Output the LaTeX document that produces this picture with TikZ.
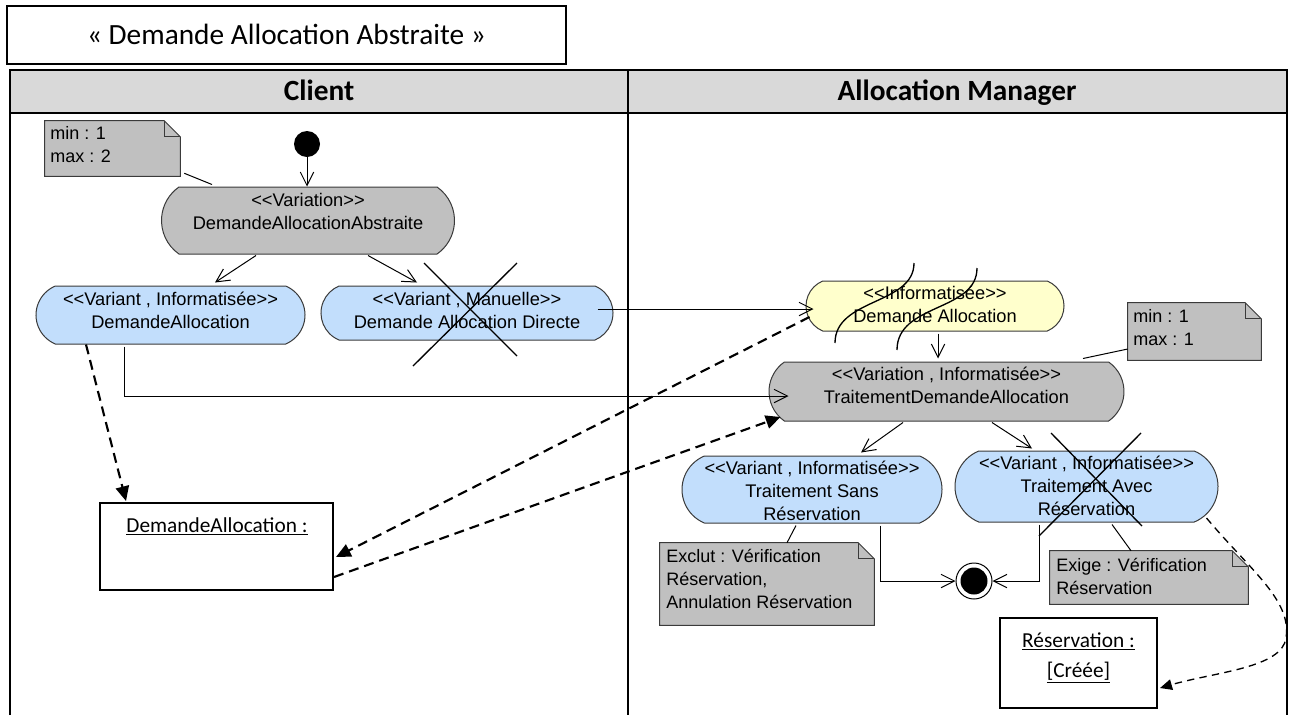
\documentclass[tikz,border=0pt]{standalone}
\usepackage{fontspec}
\setmainfont{Liberation Sans}[Ligatures=TeXOff]
\newfontfamily\calib{Carlito}
\usetikzlibrary{shapes.misc,arrows.meta,calc}
\definecolor{lanegray}{HTML}{D9D9D9}
\definecolor{nodegray}{HTML}{C0C0C0}
\definecolor{nodeblue}{HTML}{C2DEFC}
\definecolor{nodeyellow}{HTML}{FFFFCC}
\definecolor{edgegray}{HTML}{3A3A3A}
\newcommand\noteoutline[2]{%
  \draw[noteline] (#1.north west) -- ($(#1.north east)+(-#2,0)$) -- ($(#1.north east)+(0,#2)$) -- (#1.south east) -- (#1.south west) -- cycle;
  \draw[line width=0.75pt, draw=edgegray] ($(#1.north east)+(-#2,0)$) -- ($(#1.north east)+(-#2,#2)$) -- ($(#1.north east)+(0,#2)$);}
\begin{document}
\begin{tikzpicture}[x=0.75pt,y=-0.75pt,
  act/.style={rounded rectangle, rounded rectangle arc length=135, draw=edgegray, line width=0.75pt, inner sep=0pt},
  grayact/.style={act, fill=nodegray, rounded rectangle arc length=110},
  blueact/.style={act, fill=nodeblue},
  yellowact/.style={act, fill=nodeyellow},
  ntext/.style={align=center, inner sep=0pt, font=\fontsize{13.7}{17.25}\selectfont},
  ntextl/.style={align=left, inner sep=0pt, font=\fontsize{13.5}{17.25}\selectfont},
  notebg/.style={rectangle, draw=none, fill=none, inner sep=0pt},
  noteline/.style={draw=edgegray, fill=nodegray, line width=0.75pt},
  flow/.style={-{Straight Barb[length=10pt,width=10pt]}, line width=0.75pt},
  plain/.style={line width=0.75pt},
  dep/.style={-{Triangle[length=11pt,width=10pt]}, line width=1.6pt, dash pattern=on 7.5pt off 4.5pt},
  depthin/.style={-{Triangle[length=9pt,width=8pt]}, line width=1pt, dash pattern=on 5.5pt off 4pt},
  objbox/.style={rectangle, draw=black, line width=1.5pt, fill=white, inner sep=0pt},
  objtext/.style={align=center, inner sep=0pt, font=\calib\fontsize{16}{22.5}\selectfont},
  lanehead/.style={inner sep=0pt, anchor=base, font=\calib\bfseries\fontsize{22}{26}\selectfont},
  cross/.style={line width=1pt}
]
\useasboundingbox (0,0) rectangle (1292,715);
% title
\node[rectangle, draw=black, line width=1.5pt, minimum width=559*0.75pt, minimum height=58*0.75pt, inner sep=0pt,
  font=\calib\fontsize{22}{26}\selectfont] (title) at (286.5,34.5) {« Demande Allocation Abstraite »};
% swimlanes
\fill[lanegray] (10,70) rectangle (1287,113);
\draw[line width=2.2pt] (10,715) -- (10,70) -- (1287,70) -- (1287,715);
\draw[line width=2.2pt] (10,113) -- (1287,113);
\draw[line width=1.5pt] (628,70) -- (628,715);
\node[lanehead] (lclient) at (319,100) {Client};
\node[lanehead] (lmanager) at (957,100) {Allocation Manager};

% actions
\node[circle, fill=black, minimum size=26*0.75pt, inner sep=0pt] (init) at (307,144) {};
\node[grayact, minimum width=293*0.75pt, minimum height=67*0.75pt] (v0) at (308,220.5) {};
\node[ntext] (v0t) at ($(v0)+(0,-9)$) {<<Variation>>\\DemandeAllocationAbstraite};
\node[blueact, minimum width=269*0.75pt, minimum height=58*0.75pt] (da) at (170.5,315) {};
\node[ntext] (dat) at ($(da)+(0,-5)$) {<<Variant , Informatisée>>\\DemandeAllocation};
\node[blueact, minimum width=292*0.75pt, minimum height=54*0.75pt] (dad) at (467,313) {};
\node[ntext] (dadt) at ($(dad)+(0,-3)$) {<<Variant , Manuelle>>\\Demande Allocation Directe};
\node[yellowact, minimum width=258*0.75pt, minimum height=50*0.75pt] (yel) at (935,306) {};
\node[ntext] (yelt) at ($(yel)+(0,-1.5)$) {<<Informatisée>>\\Demande Allocation};
\node[grayact, minimum width=355*0.75pt, minimum height=59*0.75pt] (tda) at (946.5,391.5) {};
\node[ntext] (tdat) at ($(tda)+(0,-6)$) {<<Variation , Informatisée>>\\TraitementDemandeAllocation};
\node[blueact, minimum width=260*0.75pt, minimum height=67*0.75pt] (tsr) at (812,489.5) {};
\node[ntext] (tsrt) at ($(tsr)+(0,1)$) {<<Variant , Informatisée>>\\Traitement Sans\\Réservation};
\node[blueact, minimum width=263*0.75pt, minimum height=71*0.75pt] (tar) at (1086.5,486.5) {};
\node[ntext] (tart) at ($(tar)+(0,-1)$) {<<Variant , Informatisée>>\\Traitement Avec\\Réservation};
\node[circle, draw=black, fill=white, line width=0.75pt, minimum size=36*0.75pt, inner sep=0pt] (fin) at (974,581) {};
\node[circle, fill=black, minimum size=27*0.75pt, inner sep=0pt] (fin2) at (fin) {};

% object boxes
\node[objbox, minimum width=233*0.75pt, minimum height=87*0.75pt] (ob1) at (216.5,546.5) {};
\node[objtext] (ob1t) at ($(ob1.north)+(0.5,24)$) {\underline{DemandeAllocation :}};
\node[objbox, minimum width=157*0.75pt, minimum height=90*0.75pt] (ob2) at (1078.5,663) {};
\node[objtext] (ob2t) at ($(ob2)+(0,-5)$) {\underline{Réservation :}\\\underline{[Créée]}};

% notes
\node[notebg, minimum width=135*0.75pt, minimum height=55*0.75pt] (n1) at (112.5,148.5) {};
\noteoutline{n1}{16}
\node[ntextl, anchor=west] (n1t) at (50,144.5) {min : 1\\max : 2};
\node[notebg, minimum width=133*0.75pt, minimum height=57*0.75pt] (n2) at (1194.5,331.5) {};
\noteoutline{n2}{16}
\node[ntextl, anchor=west] (n2t) at (1133,328) {min : 1\\max : 1};
\node[notebg, minimum width=214*0.75pt, minimum height=82*0.75pt] (n3) at (767,584) {};
\noteoutline{n3}{16}
\node[ntextl, anchor=west] (n3t) at (666,579) {Exclut : Vérification\\Réservation,\\Annulation Réservation};
\node[notebg, minimum width=198*0.75pt, minimum height=53*0.75pt] (n4) at (1149,577.5) {};
\noteoutline{n4}{16}
\node[ntextl, anchor=west] (n4t) at (1056,576) {Exige : Vérification\\Réservation};

% note anchors
\draw[plain] ($(n1.south east)+(4,-3)$) -- ($(v0.north)+(-96,-2)$);
\draw[plain] ($(n2.west)+(0,17.5)$) -- ($(tda.north)+(136.5,-3)$);
\draw[plain] ($(n3.north)+(20,0)$) -- ($(tsr.south)+(-16,2)$);
\draw[plain] ($(n4.north)+(-18,0)$) -- ($(tar.south)+(25.5,2)$);

% control flows
\draw[flow] (init.south) -- (init.south |- v0.north);
\draw[flow] ($(v0.south)+(-52,1)$) -- ($(da.north)+(44.5,-3)$);
\draw[flow] ($(v0.south)+(60,1)$) -- ($(dad.north)+(-50,-3)$);
\draw[flow] ($(dad.east)+(-16,-4)$) -- ($(yel.west)+(8,3)$);
\draw[flow] ($(da.south)+(-46.5,2)$) |- ($(tda.west)+(20,4.5)$);
\draw[flow] ($(yel.south)+(3,2)$) -- ($(tda.north)+(-8.5,-3)$);
\draw[flow] ($(tda.south)+(-43.5,1)$) -- ($(tsr.north)+(49,-3)$);
\draw[flow] ($(tda.south)+(45.5,1)$) -- ($(tar.north)+(-54.5,-2)$);
\draw[flow] ($(tsr.south)+(68,2)$) |- (fin.west);
\draw[flow] ($(tar.south)+(-47.5,2)$) |- (fin.east);

% object flows
\draw[dep] ($(da.south)+(-84.5,0)$) -- ($(ob1.north west)+(27,-1)$);
\draw[dep] ($(yel.west)+(4,11)$) -- ($(ob1.east)+(2,10.5)$);
\draw[dep] ($(ob1.east)+(0,30.5)$) -- ($(tda.west)+(12,25.5)$);
\draw[depthin] ($(tar.east)+(-12,31.5)$) .. controls (1250,570) and (1292,600) .. (1286,638)
  .. controls (1282,668) and (1215,672) .. ($(ob2.east)+(2,25)$);

% crosses
\draw[cross] (424,263) -- (517,356);
\draw[cross] (517,263) -- (413,366);
\draw[cross] (1051,433) -- (1142,526);
\draw[cross] (1141,433) -- (1039,536);
% wavy strokes
\draw[line width=1pt] (914,263) .. controls (914,305) and (835,298) .. (835,343);
\draw[line width=1pt] (977,268) .. controls (977,312) and (897,303) .. (897,350);
\end{tikzpicture}
\end{document}
